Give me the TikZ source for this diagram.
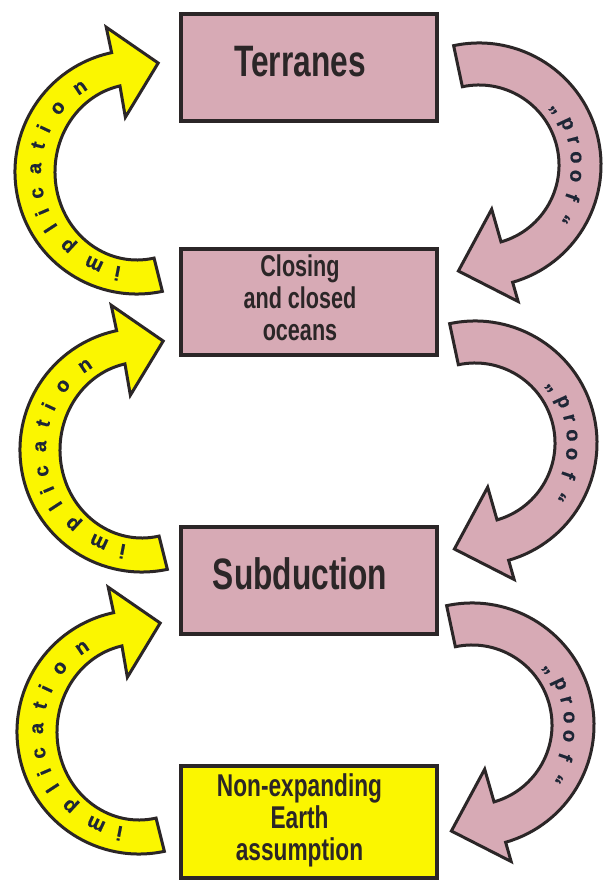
\documentclass[tikz,border=0pt]{standalone}
\usepackage{fontspec}
\setmainfont{Liberation Sans}
\newfontfamily\condfont{Liberation Sans}[FakeStretch=0.72]
\newfontfamily\arcfont{Liberation Sans}[FakeBold=0.6]
\definecolor{pinkfill}{HTML}{D7AAB5}
\definecolor{yellowfill}{HTML}{FBF600}
\definecolor{inkline}{HTML}{2B2627}
\definecolor{arctext}{HTML}{1E2636}
\newcommand\boxlines[1]{\begin{tabular}{@{}c@{}}#1\end{tabular}\hspace*{18pt}}
% yellow "implication" arrow around coordinate #1
\newcommand\implarrow[1]{%
  \draw[yarrow, shift={(#1)}] (282:122) arc[start angle=282, end angle=102, radius=122]
    -- (102:148) -- (79:111) -- (102:56) -- (102:82 and 88)
    arc[start angle=102, end angle=282, x radius=82, y radius=88] -- cycle;
  \begin{scope}[shift={(#1)}]
    \foreach \ch/\ang [count=\k, evaluate=\ang as \rot using \ang-90] in
      {i/259, m/245, p/227, l/213, i/203, c/192, a/178, t/165, i/155, o/141, n/124}
      \node[arcletter, rotate=\rot] (#1-t\k) at (\ang:96) {\ch};
  \end{scope}}
% pink "proof" arrow around coordinate #1
\newcommand\proofarrow[1]{%
  \draw[parrow, shift={(#1)}] (102:122) arc[start angle=102, end angle=-74, radius=122]
    -- (-74:142) -- (-101:108) -- (-74:46) -- (-74:80)
    arc[start angle=-74, end angle=102, radius=80] -- cycle;
  \begin{scope}[shift={(#1)}]
    \foreach \ch/\ang [count=\k, evaluate=\ang as \rot using \ang-90] in
      {„/36.5, p/25, r/14.7, o/4.5, o/-6.5, f/-19, “/-32}
      \node[arcletter, rotate=\rot] (#1-t\k) at (\ang:92) {\ch};
  \end{scope}}

\begin{document}
\begin{tikzpicture}[x=1pt, y=1pt,
  box/.style={draw=inkline, line width=4pt, minimum width=256pt, inner sep=0pt, text=inkline},
  pinkbox/.style={box, fill=pinkfill},
  yellowbox/.style={box, fill=yellowfill},
  bigfont/.style={font=\condfont\bfseries\fontsize{44}{44}\selectfont},
  smallfont/.style={font=\condfont\bfseries\fontsize{30}{32}\selectfont},
  midfont/.style={font=\condfont\bfseries\fontsize{31.5}{31.5}\selectfont},
  yarrow/.style={draw=inkline, line width=3pt, fill=yellowfill, line join=miter},
  parrow/.style={draw=inkline, line width=3pt, fill=pinkfill, line join=miter},
  arcletter/.style={font=\arcfont\bfseries\fontsize{20}{20}\selectfont, text=arctext, inner sep=0pt, anchor=base},
]
\useasboundingbox (0,0) rectangle (603,881);
\fill[white] (0,0) rectangle (603,881);

% boxes
\node[pinkbox, bigfont, minimum height=107pt] (terranes) at (309,813.5) {\boxlines{Terranes}};
\node[pinkbox, smallfont, minimum height=106pt] (oceans) at (309,579) {\boxlines{Closing\\and closed\\oceans}};
\node[pinkbox, bigfont, minimum height=107pt] (subduction) at (309,300.5) {\boxlines{Subduction}};
\node[yellowbox, midfont, minimum height=112pt] (earth) at (308.5,59) {\boxlines{Non-expanding\\Earth\\assumption}};

% arrow centres
\coordinate (yA) at (137,709);
\coordinate (yB) at (142,431);
\coordinate (yC) at (139,149);
\coordinate (pA) at (479,716);
\coordinate (pB) at (475,438);
\coordinate (pC) at (472,156);

\implarrow{yA}
\implarrow{yB}
\implarrow{yC}
\proofarrow{pA}
\proofarrow{pB}
\proofarrow{pC}
\end{tikzpicture}
\end{document}
